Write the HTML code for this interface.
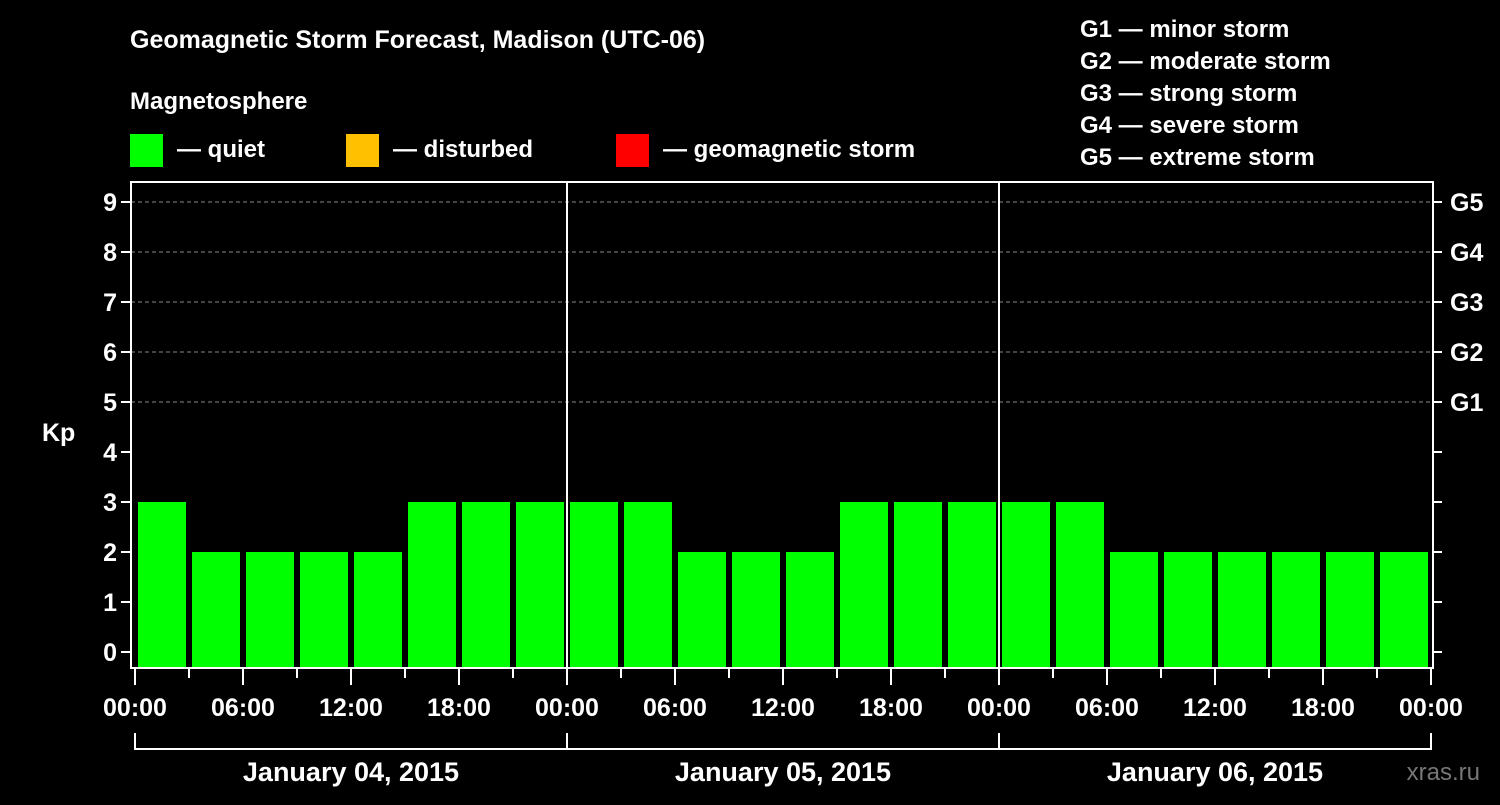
<!DOCTYPE html>
<html><head><meta charset="utf-8"><style>
body{margin:0;background:#000;width:1500px;height:800px;overflow:hidden}
svg text{font-family:"Liberation Sans",Arial,sans-serif;font-weight:bold;fill:#fff}
</style></head><body>
<svg id="c" width="1500" height="800" xmlns="http://www.w3.org/2000/svg">
<text x="130" y="48" font-size="25">Geomagnetic Storm Forecast, Madison (UTC-06)</text>
<text x="130" y="109" font-size="24">Magnetosphere</text>
<rect x="130" y="134" width="33" height="33" fill="#00ff00"/>
<text x="177" y="157" font-size="24">— quiet</text>
<rect x="346" y="134" width="33" height="33" fill="#ffc000"/>
<text x="393" y="157" font-size="24">— disturbed</text>
<rect x="616" y="134" width="33" height="33" fill="#ff0000"/>
<text x="663" y="157" font-size="24">— geomagnetic storm</text>
<g font-size="24">
<text x="1080" y="37">G1 — minor storm</text>
<text x="1080" y="69">G2 — moderate storm</text>
<text x="1080" y="101">G3 — strong storm</text>
<text x="1080" y="133">G4 — severe storm</text>
<text x="1080" y="165">G5 — extreme storm</text>
</g>
<text x="42" y="441" font-size="25">Kp</text>
<text x="1480" y="780" font-size="24" text-anchor="end" fill="#777" style="fill:#777;font-weight:normal">xras.ru</text>
<g id="plot"></g>
</svg>
<script>
const days=["January 04, 2015","January 05, 2015","January 06, 2015"];
const kp=[3,2,2,2,2,3,3,3, 3,3,2,2,2,3,3,3, 3,3,2,2,2,2,2,2];
const yTicks=[0,1,2,3,4,5,6,7,8,9];
const gLabels=["G1","G2","G3","G4","G5"];
const hourLabels=["00:00","06:00","12:00","18:00"];
const NS="http://www.w3.org/2000/svg";
const X0=135,DAYW=432,SLOT=54,L=131,R=1433,T=182,B=668;
const x=h=>X0+h*SLOT/3;
const y=v=>652-v*50;
const g=document.getElementById('plot');
function mk(t,a){const e=document.createElementNS(NS,t);for(const k in a)e.setAttribute(k,a[k]);g.appendChild(e);return e;}
yTicks.forEach(v=>{
 if(v>=5){const l=mk('line',{x1:L,x2:R,y1:y(v),y2:y(v),stroke:'#888','stroke-dasharray':'4,3','stroke-width':1});
 
 }
 const t=mk('line',{x1:L-10,x2:L,y1:y(v),y2:y(v),stroke:'#fff','stroke-width':2});
 
 
 const rt=mk('line',{x1:R,x2:R+9,y1:y(v),y2:y(v),stroke:'#fff','stroke-width':2});
 
 
 const tx=mk('text',{x:L-14,y:y(v)+9,'font-size':25,'text-anchor':'end'});tx.textContent=v;
 
 
});
gLabels.forEach((s,i)=>{const tx=mk('text',{x:1450,y:y(5+i)+9,'font-size':25});tx.textContent=s;
 
 });
kp.forEach((v,i)=>{const h=i*3;const r=mk('rect',{x:x(h)+3,y:y(v),width:SLOT-6,height:B-y(v),fill:v>=5?'#ff0000':v>=4?'#ffc000':'#00ff00'});
 
 });
const ax=mk('rect',{x:L,y:T,width:R-L,height:B-T,fill:'none',stroke:'#fff','stroke-width':2});


days.forEach((d,i)=>{
 if(i>0){const l=mk('line',{x1:x(i*24),x2:x(i*24),y1:T,y2:B,stroke:'#fff','stroke-width':2});
 
 }
 const br=mk('path',{d:`M${x(i*24)} 733V749H${x(i*24+24)}V733`,fill:'none',stroke:'#fff','stroke-width':2});
 
 
 const tx=mk('text',{x:x(i*24+12),y:781,'font-size':27,'text-anchor':'middle'});tx.textContent=d;
 
 
});
for(let h=0;h<=72;h+=3){const major=h%6===0;
 const t=mk('line',{x1:x(h),x2:x(h),y1:B,y2:major?685:678,stroke:'#fff','stroke-width':2});
 
 
 if(major){const tx=mk('text',{x:x(h),y:716,'font-size':25,'text-anchor':'middle'});tx.textContent=hourLabels[(h%24)/6];
 
 }}
</script>
</body></html>
